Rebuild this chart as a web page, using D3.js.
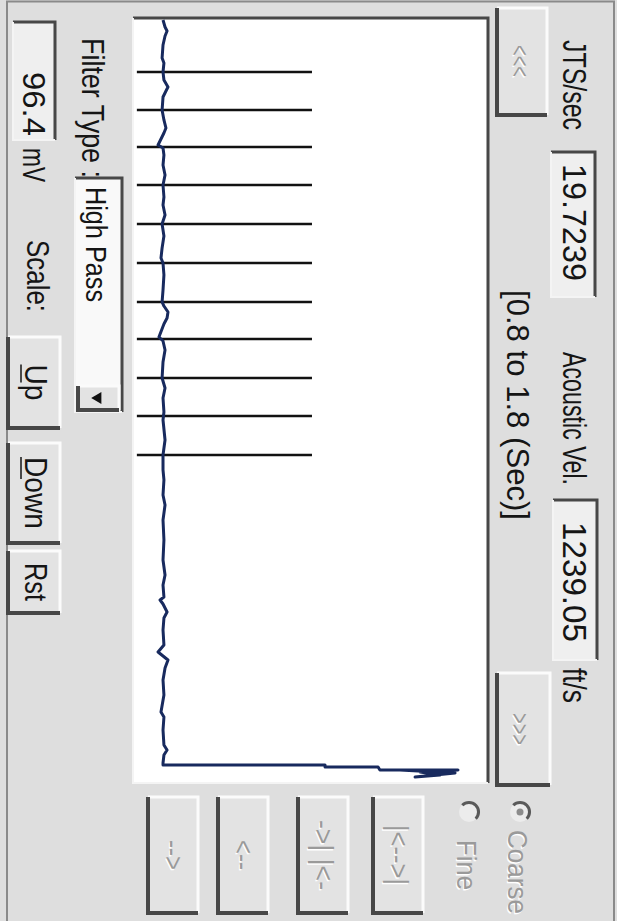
<!DOCTYPE html>
<html>
<head>
<meta charset="utf-8">
<script src="https://cdn.jsdelivr.net/npm/d3@7"></script>
<style>
html, body { margin: 0; padding: 0; background: #dcdcdc; overflow: hidden; }
svg { display: block; }
text { font-family: "Liberation Sans", Arial, sans-serif; }
</style>
</head>
<body>
<script>
// readouts shown in the panel
var jtsPerSec = '19.7239'
var acousticVel = '1239.05'
var windowLabel = '[0.8 to 1.8 (Sec)]'
var scaleMv = '96.4'
var filterType = 'High Pass'

var timeDomain = [0.8, 1.8]
var mvDomain = [-96.4, 96.4]

// joint markers (sec)
var markerTimes = [0.8706, 0.9203, 0.9686, 1.0183, 1.0693, 1.1203, 1.1712, 1.2196, 1.2706, 1.3203, 1.3712]
var markerRange = [-94.3, 0.8]

// trace, time (sec) and amplitude (mV)
var traceTime = [0.8026, 0.8118, 0.8170, 0.8235, 0.8353, 0.8523, 0.8588, 0.8706, 0.8810, 0.8902,
  0.8954, 0.9033, 0.9203, 0.9333, 0.9438, 0.9503, 0.9660, 0.9699, 0.9791, 0.9922,
  1.0052, 1.0183, 1.0340, 1.0444, 1.0575, 1.0693, 1.0850, 1.1007, 1.1137, 1.1203,
  1.1359, 1.1556, 1.1712, 1.1765, 1.1843, 1.1922, 1.2000, 1.2170, 1.2222, 1.2340,
  1.2497, 1.2706, 1.2837, 1.2967, 1.3150, 1.3255, 1.3516, 1.3712, 1.3908, 1.4039,
  1.4235, 1.4366, 1.4562, 1.4824, 1.5085, 1.5281, 1.5412, 1.5569, 1.5608, 1.5660,
  1.5765, 1.5843, 1.6000, 1.6196, 1.6288, 1.6340, 1.6392, 1.6497, 1.6654, 1.6850,
  1.7072, 1.7137, 1.7307, 1.7503, 1.7569, 1.7634, 1.7739, 1.7765, 1.7765, 1.7791,
  1.7791, 1.7830, 1.7830, 1.7856, 1.7895, 1.7922, 1.7869, 1.7830]
var traceMv = [-80.1, -79.0, -77.9, -79.0, -80.1, -80.6, -79.6, -80.1, -79.6, -77.4,
  -78.5, -80.1, -80.6, -79.6, -78.5, -79.6, -82.8, -80.1, -79.6, -80.1,
  -79.0, -80.1, -79.6, -80.1, -79.0, -80.6, -79.6, -80.6, -81.2, -80.1,
  -79.6, -80.1, -80.6, -79.6, -77.4, -77.9, -79.6, -82.3, -80.1, -79.0,
  -80.1, -80.6, -79.0, -80.1, -79.6, -80.1, -79.0, -80.1, -80.1, -79.6,
  -80.1, -79.0, -80.1, -79.6, -80.1, -79.0, -80.1, -79.6, -81.7, -80.1,
  -77.9, -79.6, -80.1, -79.6, -82.8, -80.1, -77.4, -79.0, -80.1, -79.6,
  -81.2, -79.6, -80.1, -79.6, -77.9, -79.6, -80.1, -80.1, 7.9, 7.9,
  36.7, 37.7, 80.1, 59.5, 70.3, 56.8, 78.5, 48.6]

// the panel is drawn upright (921 x 617) and turned a quarter turn clockwise
var svg = d3.select('body').append('svg')
    .attr('width', 617)
    .attr('height', 921)
var g = svg.append('g')
    .attr('transform', 'translate(617,0) rotate(90)')

g.append('rect')
    .attr('x', 0).attr('y', 0).attr('width', 921).attr('height', 617)
    .attr('fill', '#dedede')
g.append('rect')
    .attr('x', 1.5).attr('y', 3).attr('width', 930).attr('height', 607)
    .attr('fill', 'none').attr('stroke', '#8a8a8a').attr('stroke-width', 2)

function bevel (x, y, w, h, sunken, face) {
	var b = g.append('g')
	b.append('rect')
	    .attr('x', x).attr('y', y).attr('width', w).attr('height', h)
	    .attr('fill', face || '#e3e3e3')
	var lt = sunken ? '#474747' : '#fbfbfb'
	var rb = sunken ? '#f4f4f4' : '#474747'
	b.append('path')
	    .attr('d', 'M' + x + ',' + (y + h) + 'V' + y + 'H' + (x + w))
	    .attr('fill', 'none').attr('stroke', lt).attr('stroke-width', 3)
	b.append('path')
	    .attr('d', 'M' + (x + w) + ',' + y + 'V' + (y + h) + 'H' + x)
	    .attr('fill', 'none').attr('stroke', rb).attr('stroke-width', sunken ? 2 : 4)
	return b
}

function label (txt, x, y, w, size, opts) {
	opts = opts || {}
	var add = function (dx, dy, fill) {
		var t = g.append('text')
		    .attr('x', x + dx).attr('y', y + dy)
		    .attr('font-size', size)
		    .attr('fill', fill)
		    .attr('text-anchor', opts.anchor || 'start')
		    .text(txt)
		if (w) t.attr('textLength', w).attr('lengthAdjust', 'spacingAndGlyphs')
		return t
	}
	if (opts.grey) {
		add(1.5, 1.5, '#ffffff')
		return add(0, 0, '#9a9a9a')
	}
	return add(0, 0, opts.fill || '#151515')
}

// top row
bevel(8, 70, 107, 50, false)
label('<<<', 61, 106, 32, 26, {anchor: 'middle', grey: true})
label('JTS/sec', 40, 54, 90, 33)
bevel(152, 22, 145, 44, true, '#efefef')
label(jtsPerSec, 164, 54, 117, 33)
label('Acoustic Vel.', 352, 54, 133, 33)
bevel(500, 20, 160, 44, true, '#efefef')
label(acousticVel, 522, 54, 120, 33)
label('ft/s', 668, 54, 35, 33)
bevel(673, 67, 112, 53, false)
label('>>>', 729, 106, 32, 26, {anchor: 'middle', grey: true})
label(windowLabel, 290, 110, 230, 31)

// radio buttons
var ring = d3.arc().innerRadius(8).outerRadius(11)
    .startAngle(-3 * Math.PI / 4).endAngle(Math.PI / 4)
;[[97, true], [148, false]].forEach(function (r) {
	var c = g.append('g').attr('transform', 'translate(812,' + r[0] + ')')
	c.append('circle').attr('r', 10).attr('fill', '#ececec')
	c.append('path').attr('d', ring()).attr('fill', '#5a5a5a')
	if (r[1]) c.append('circle').attr('r', 3.5).attr('fill', '#8c8c8c')
})
label('Coarse', 830, 109, 84, 27, {grey: true})
label('Fine', 840, 160, 50, 28, {grey: true})

// right column of stepping buttons
var stepLabels = ['|<-->|', '->| |<-', '<--', '-->']
var stepTop = [194, 269, 349, 419]
stepLabels.forEach(function (s, i) {
	bevel(797, stepTop[i], 116, 50, false)
	label(s, 855, stepTop[i] + 34, s.length * 10, 27, {anchor: 'middle', grey: true})
})

// plot panel
var plot = {u0: 18, u1: 783, v0: 129, v1: 484}
bevel(plot.u0, plot.v0, plot.u1 - plot.u0, plot.v1 - plot.v0, true, '#ffffff')

var x = d3.scaleLinear()
    .domain(timeDomain)
    .range([plot.u0, plot.u1])
var y = d3.scaleLinear()
    .domain(mvDomain)
    .range([plot.v1, plot.v0])

g.append('clipPath').attr('id', 'pc')
  .append('rect')
    .attr('x', plot.u0 + 1).attr('y', plot.v0 + 1)
    .attr('width', plot.u1 - plot.u0 - 2).attr('height', plot.v1 - plot.v0 - 2)

var chart = g.append('g').attr('clip-path', 'url(#pc)')

chart.selectAll('line.marker')
    .data(markerTimes)
  .enter().append('line')
    .attr('class', 'marker')
    .attr('x1', function (d) { return x(d) })
    .attr('x2', function (d) { return x(d) })
    .attr('y1', y(markerRange[0]))
    .attr('y2', y(markerRange[1]))
    .attr('stroke', '#111111')
    .attr('stroke-width', 2.6)

var trace = d3.zip(traceTime, traceMv)
var line = d3.line()
    .x(function (d) { return x(d[0]) })
    .y(function (d) { return y(d[1]) })

chart.append('path')
    .datum(trace)
    .attr('d', line)
    .attr('fill', 'none')
    .attr('stroke', '#182a5e')
    .attr('stroke-width', 3)
    .attr('stroke-linejoin', 'round')

// bottom row
label('Filter Type :', 38, 535, 140, 31)
bevel(178, 495, 234, 47, true, '#f9f9f9')
label(filterType, 187, 531, 115, 30)
bevel(386, 498, 24, 41, false)
g.append('path')
    .attr('d', d3.symbol().type(d3.symbolTriangle).size(60)())
    .attr('transform', 'translate(398,519) rotate(180)')
    .attr('fill', '#111')

bevel(22, 562, 118, 42, true, '#efefef')
label(scaleMv, 136, 594, 64, 32, {anchor: 'end'})
label('mV', 148, 594, 34, 32)
label('Scale:', 240, 590, 72, 31)

var btns = [['Up', 337, 428], ['Down', 443, 543], ['Rst', 551, 613]]
btns.forEach(function (b) {
	bevel(b[1], 557, b[2] - b[1], 52, false)
	var w = b[0] === 'Up' ? 36 : (b[0] === 'Down' ? 72 : 38)
	var cx = (b[1] + b[2]) / 2
	label(b[0], cx, 592, w, 31, {anchor: 'middle'})
	if (b[0] !== 'Rst') {
		var first = b[0] === 'Up' ? 18 : 22
		g.append('line')
		    .attr('x1', cx - w / 2).attr('x2', cx - w / 2 + first)
		    .attr('y1', 596).attr('y2', 596)
		    .attr('stroke', '#151515').attr('stroke-width', 1.5)
	}
})
</script>
</body>
</html>
